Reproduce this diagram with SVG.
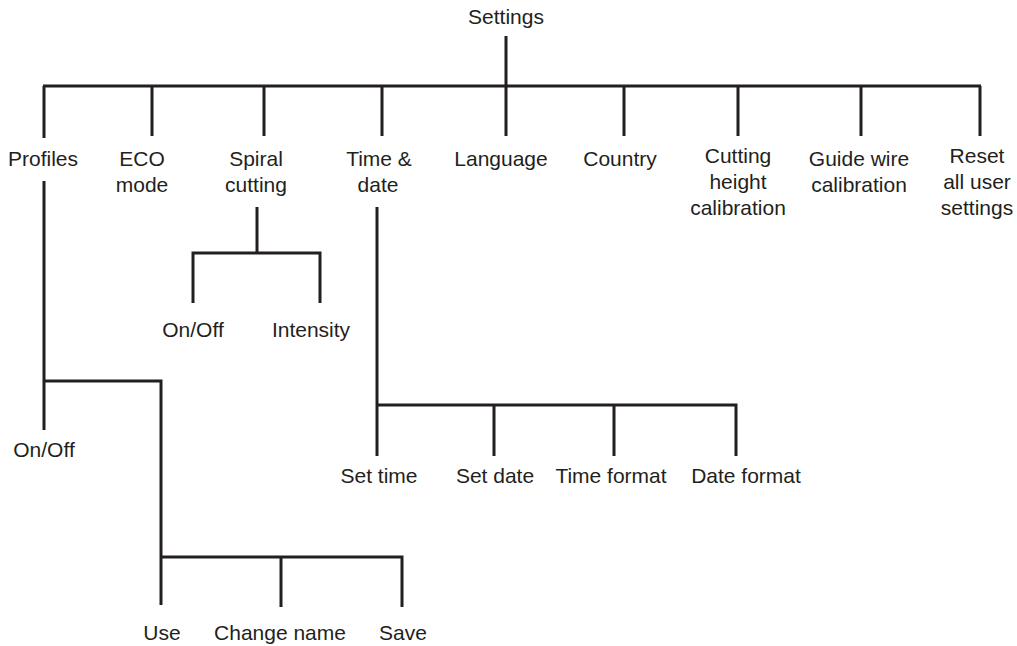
<svg xmlns="http://www.w3.org/2000/svg" width="1017" height="646" viewBox="0 0 1017 646">
<style>
.bg{fill:#ffffff}
.c{fill:none;stroke:#231f20;stroke-width:3}
text{font-family:"Liberation Sans",Arial,sans-serif;font-size:21px;fill:#231f20;text-anchor:middle}
</style>
<rect class="bg" x="0" y="0" width="1017" height="646"/>
<g id="connectors">
<path class="c" d="M506,36 V136 M43,86 H981 M44,86 V138 M152,86 V136 M264,86 V136 M382,86 V136 M624,86 V136 M738,86 V136 M861,86 V136 M980,86 V136"/>
<path class="c" d="M44,181 V430 M44,381 H161 V605 M161,557 H402 V607 M281,557 V607"/>
<path class="c" d="M257,207 V253 M193,303 V253 H320 V303"/>
<path class="c" d="M377,207 V456 M377,405 H736 V456 M494,405 V456 M614,405 V456"/>
</g>
<g id="settings"><text x="506" y="24">Settings</text></g>
<g id="profiles"><text x="43" y="166">Profiles</text></g>
<g id="eco"><text x="142" y="166">ECO</text><text x="142" y="192">mode</text></g>
<g id="spiral"><text x="256" y="166">Spiral</text><text x="256" y="192">cutting</text></g>
<g id="timedate"><text x="379" y="166">Time &amp;</text><text x="378" y="192">date</text></g>
<g id="language"><text x="501" y="166">Language</text></g>
<g id="country"><text x="620" y="166">Country</text></g>
<g id="cutting"><text x="738" y="163">Cutting</text><text x="738" y="189">height</text><text x="738" y="215">calibration</text></g>
<g id="guide"><text x="859" y="166">Guide wire</text><text x="859" y="192">calibration</text></g>
<g id="reset"><text x="977" y="163">Reset</text><text x="977" y="189">all user</text><text x="977" y="215">settings</text></g>
<g id="spiral-onoff"><text x="193" y="337">On/Off</text></g>
<g id="intensity"><text x="311" y="337">Intensity</text></g>
<g id="profiles-onoff"><text x="44" y="457">On/Off</text></g>
<g id="settime"><text x="379" y="483">Set time</text></g>
<g id="setdate"><text x="495" y="483">Set date</text></g>
<g id="timeformat"><text x="611" y="483">Time format</text></g>
<g id="dateformat"><text x="746" y="483">Date format</text></g>
<g id="use"><text x="162" y="640">Use</text></g>
<g id="changename"><text x="280" y="640">Change name</text></g>
<g id="save"><text x="403" y="640">Save</text></g>
</svg>
